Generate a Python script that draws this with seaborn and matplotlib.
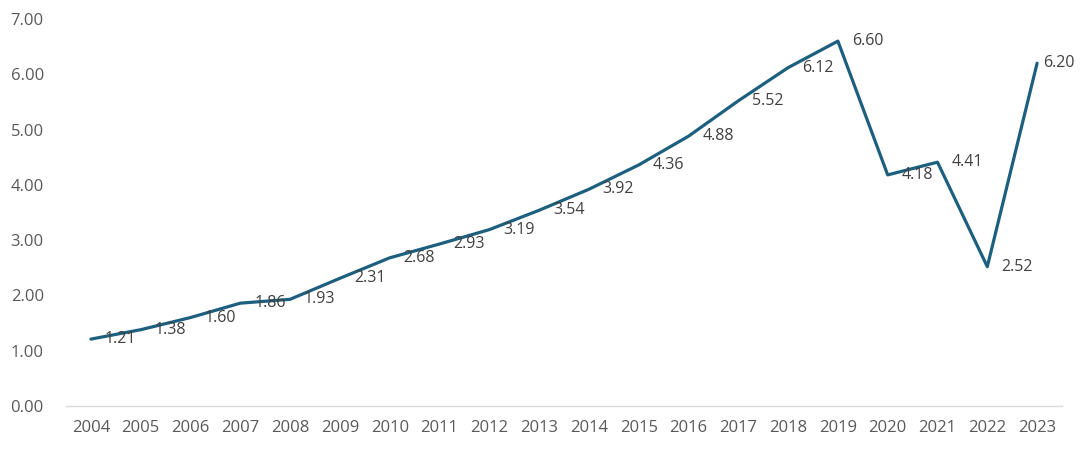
import numpy as np
import pandas as pd
import matplotlib
matplotlib.use("Agg")
import matplotlib.pyplot as plt
import seaborn as sns

years = list(range(2004, 2024))
values = [1.21, 1.38, 1.60, 1.86, 1.93, 2.31, 2.68, 2.93, 3.19, 3.54,
          3.92, 4.36, 4.88, 5.52, 6.12, 6.60, 4.18, 4.41, 2.52, 6.20]
y_ticks = [0, 1, 2, 3, 4, 5, 6, 7]

line_color = "#1d5f7e"
tick_color = "#595959"
label_color = "#404040"

sns.set_theme(style="white")
plt.rcParams['font.family'] = ['Open Sans', 'DejaVu Sans']

df = pd.DataFrame({"year": years, "value": values})

fig = plt.figure(figsize=(10.8, 4.53), dpi=100)
ax = fig.add_axes([66 / 1080, 1 - 406 / 453, 996 / 1080, 387 / 453])

sns.lineplot(data=df, x="year", y="value", ax=ax, color=line_color, linewidth=2.3)

for i, (x, v) in enumerate(zip(years, values)):
    # last label squeezed in so it stays inside the figure
    dx = 4 if i == len(years) - 1 else 10
    ax.annotate(f"{v:.2f}", (x, v), xytext=(dx, 0), textcoords="offset points",
                ha="left", va="center", fontsize=11.5, color=label_color)

ax.set_xlim(years[0] - 0.5, years[-1] + 0.5)
ax.set_ylim(0, 7)
ax.set_xticks(years)
ax.set_xticklabels([str(y) for y in years])
ax.set_yticks(y_ticks)
ax.set_yticklabels([f"{t:.2f}" for t in y_ticks])
ax.tick_params(axis="x", length=0, pad=10, labelsize=12, labelcolor=tick_color)
ax.tick_params(axis="y", length=0, pad=16, labelsize=12, labelcolor=tick_color)
ax.set_xlabel("")
ax.set_ylabel("")

for side in ["top", "right", "left"]:
    ax.spines[side].set_visible(False)
ax.spines["bottom"].set_color("#d9d9d9")
ax.spines["bottom"].set_linewidth(1)
ax.grid(False)

fig.savefig("out.png", dpi=100)
